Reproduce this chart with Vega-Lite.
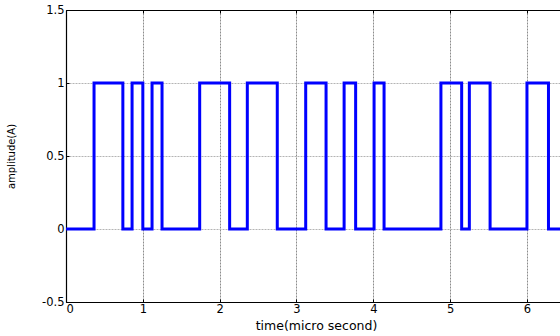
{
  "$schema": "https://vega.github.io/schema/vega-lite/v6.json",
  "width": 494,
  "height": 292,
  "autosize": "none",
  "padding": {"left": 66, "top": 10, "right": 0, "bottom": 34},
  "background": "white",
  "config": {
    "view": {"stroke": null},
    "font": "DejaVu Sans",
    "axis": {
      "labelFont": "DejaVu Sans",
      "titleFont": "DejaVu Sans",
      "labelColor": "black",
      "titleColor": "black",
      "labelFontSize": 11.5,
      "titleFontWeight": "normal",
      "domainColor": "black",
      "domainWidth": 1.2,
      "tickColor": "black",
      "tickSize": -3
    }
  },
  "data": {
    "values": [
      {"t": 0, "a": 0},
      {"t": 0.365, "a": 1},
      {"t": 0.74, "a": 0},
      {"t": 0.86, "a": 1},
      {"t": 1.0, "a": 0},
      {"t": 1.12, "a": 1},
      {"t": 1.25, "a": 0},
      {"t": 1.74, "a": 1},
      {"t": 2.13, "a": 0},
      {"t": 2.36, "a": 1},
      {"t": 2.75, "a": 0},
      {"t": 3.12, "a": 1},
      {"t": 3.385, "a": 0},
      {"t": 3.62, "a": 1},
      {"t": 3.77, "a": 0},
      {"t": 4.01, "a": 1},
      {"t": 4.14, "a": 0},
      {"t": 4.88, "a": 1},
      {"t": 5.15, "a": 0},
      {"t": 5.25, "a": 1},
      {"t": 5.52, "a": 0},
      {"t": 6.0, "a": 1},
      {"t": 6.28, "a": 0},
      {"t": 6.5, "a": 0}
    ]
  },
  "layer": [
    {
      "mark": {"type": "line", "interpolate": "step-after", "color": "#0000ff", "strokeWidth": 3, "clip": true},
      "encoding": {
        "x": {
          "field": "t", "type": "quantitative",
          "scale": {"domain": [0, 6.43], "nice": false, "zero": false},
          "axis": {
            "orient": "bottom",
            "values": [0, 1, 2, 3, 4, 5, 6],
            "labelExpr": "'' + datum.value",
            "grid": true,
            "gridColor": "#8c8c8c",
            "gridDash": [2, 1],
            "labelPadding": 4,
            "title": "time(micro second)",
            "titleFontSize": 12.5,
            "titleX": 250,
            "titleY": 17,
            "titleBaseline": "top"
          }
        },
        "y": {
          "field": "a", "type": "quantitative",
          "scale": {"domain": [-0.5, 1.5], "nice": false, "zero": false},
          "axis": {
            "values": [-0.5, 0, 0.5, 1, 1.5],
            "labelExpr": "'' + datum.value",
            "grid": true,
            "gridColor": "#b4b4b4",
            "gridDash": [2, 1],
            "labelPadding": 5,
            "title": "amplitude(A)",
            "titleFontSize": 10,
            "titleX": -50,
            "titleY": 146
          }
        }
      }
    },
    {
      "mark": {"type": "line", "opacity": 0},
      "encoding": {
        "x": {
          "field": "t", "type": "quantitative",
          "scale": {"domain": [0, 6.43], "nice": false, "zero": false},
          "axis": {
            "orient": "top",
            "values": [0, 1, 2, 3, 4, 5, 6],
            "labels": false,
            "grid": false,
            "title": null
          }
        },
        "y": {"field": "a", "type": "quantitative"}
      }
    }
  ],
  "resolve": {"axis": {"x": "independent"}}
}
